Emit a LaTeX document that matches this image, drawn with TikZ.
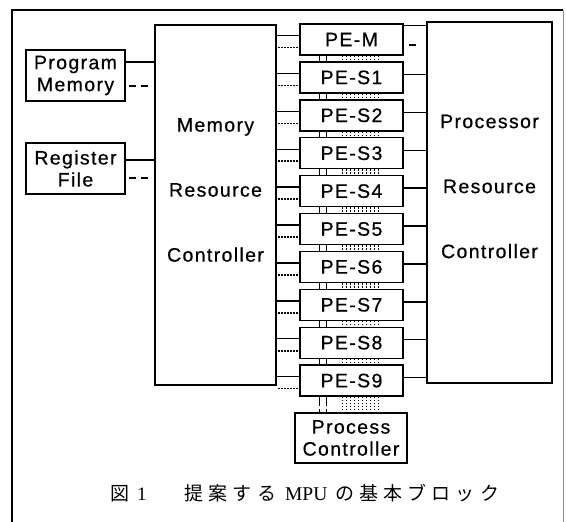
\documentclass[tikz,border=0pt]{standalone}
\usepackage{fontspec}
\setmainfont{Liberation Sans}[LetterSpace=7, FakeBold=0.6]
\newfontfamily\captionSerif{Liberation Serif}
\newfontfamily\cjk{Noto Sans CJK JP}[LetterSpace=27]
\usetikzlibrary{positioning}
\tikzstyle{diagram} = [x = 1pt, y = -1pt]
\tikzstyle{frameLine} = [line width = 1.6pt]
\tikzstyle{frameLineFaint} = [line width = .6pt, color = black!45]
\tikzstyle{blockStyle} = [draw, fill = white, line width = 1.4pt, align = center, inner sep = 0pt, font = \fontsize{19.5}{22}\selectfont]
\tikzstyle{sideBox} = [blockStyle, minimum width = 99pt, minimum height = 51pt]
\tikzstyle{peStyle} = [blockStyle, minimum width = 103pt, minimum height = 31pt]
\tikzstyle{labelText} = [align = center, inner sep = 0pt, font = \fontsize{19.5}{22}\selectfont]
\tikzstyle{solidLink} = [line width = 1.4pt]
\tikzstyle{dashLink} = [line width = 1.4pt, dash pattern = on 7pt off 5pt]
\tikzstyle{dotLink} = [line width = 1.6pt, dash pattern = on 1.4pt off 1.6pt]
\tikzstyle{busDash} = [line width = 1.4pt, dash pattern = on 9pt off 3pt]
\tikzstyle{busDot} = [line width = 1.4pt, dash pattern = on 1.4pt off 1.6pt]
\newcommand{\memLinks}[3]{
  \coordinate (#1Solid) at ([yshift=#2pt]#1.east);
  \coordinate (#1Dash) at ([yshift=#3pt]#1.east);
  \draw [solidLink] (#1Solid) -- (#1Solid -| memRC.west);
  \draw [dashLink, shorten <=3pt, shorten >=6pt] (#1Dash) -- (#1Dash -| memRC.west);
}
\newcommand{\busLines}[2]{
  \foreach \dx in {20,27} {
    \coordinate (busTop) at ([xshift=\dx pt]#1.south west);
    \draw [busDash] (busTop) -- (busTop |- #2.north);
  }
  \foreach \dx in {43,47,...,79} {
    \coordinate (busTop) at ([xshift=\dx pt]#1.south west);
    \draw [busDot] (busTop) -- (busTop |- #2.north);
  }
}

\begin{document}
\begin{tikzpicture}[diagram]
  \useasboundingbox (0,0) rectangle (566,522);
  \draw [frameLine] (12,522) -- (12,10) -- (563,10);
  \draw [frameLineFaint] (563,10) -- (563,522);

  \node [sideBox] (progMem) at (75.5,75.5) {Program\\Memory};
  \node [sideBox] (regFile) at (75.5,168.5) {Register\\File};
  \node [blockStyle, minimum width = 121pt, minimum height = 360pt] (memRC) at (215.5,205) {};
  \node [labelText] (memRCText) at ([yshift=15pt]memRC.center) {Memory\\[43pt]Resource\\[43pt]Controller};
  \node [blockStyle, minimum width = 125pt, minimum height = 361pt] (procRC) at (489.5,202.5) {};
  \node [labelText] (procRCText) at ([yshift=16pt]procRC.center) {Processor\\[43pt]Resource\\[43pt]Controller};

  \node [peStyle] (pe0) at (351.5,39.5) {PE-M};
  \foreach \i [remember=\i as \j (initially 0)] in {1,...,9}
    \node [peStyle, below = 5.5pt of pe\j] (pe\i) {PE-S\i};
  \node [blockStyle, minimum width = 112pt, minimum height = 50pt] (procCtrl) at (351,438) {Process\\Controller};

  \memLinks{progMem}{13.5}{-10.5}
  \memLinks{regFile}{8.5}{-9.5}

  \foreach \i in {0,...,9} {
    \coordinate (peSolid\i) at ([yshift=4pt]pe\i.west);
    \coordinate (peDot\i) at ([yshift=-8pt]pe\i.west);
    \draw [solidLink] (peSolid\i -| memRC.east) -- (peSolid\i);
    \draw [dotLink, shorten <=1.5pt] (peDot\i -| memRC.east) -- (peDot\i);
  }
  \foreach \i in {1,...,9} {
    \coordinate (peOut\i) at ([yshift=3pt]pe\i.east);
    \draw [solidLink] (peOut\i) -- (peOut\i -| procRC.west);
  }
  \coordinate (peOutTop) at ([yshift=-2pt]pe0.north east);
  \draw [solidLink] (peOutTop) -- (peOutTop -| procRC.west);
  \coordinate (peOutDash) at ([yshift=-5.5pt]pe0.east);
  \draw [solidLink, shorten <=5pt, shorten >=10pt] (peOutDash) -- (peOutDash -| procRC.west);

  \foreach \i [remember=\i as \j (initially 0)] in {1,...,9} {
    \busLines{pe\j}{pe\i}
  }
  \busLines{pe9}{procCtrl}

  \node [anchor = base west, inner sep = 0pt, font = \fontsize{19}{22}\selectfont] (captionText) at (110,500)
    {{\cjk 図}\hspace{8pt}{\captionSerif\fontsize{19}{22}\selectfont 1}\hspace{38pt}{\cjk 提案する}\hspace{9pt}{\captionSerif\fontsize{19.5}{22}\selectfont MPU}\hspace{8pt}{\cjk の基本ブロック}};
\end{tikzpicture}
\end{document}
